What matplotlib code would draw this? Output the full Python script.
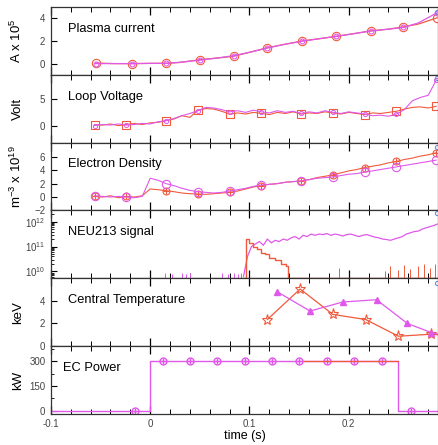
import numpy as np
import matplotlib
matplotlib.use("Agg")
import matplotlib.pyplot as plt
from matplotlib.ticker import MultipleLocator, FixedLocator, FixedFormatter

plt.rcParams['font.family'] = ['Liberation Sans', 'DejaVu Sans']
plt.rcParams['mathtext.fontset'] = 'custom'
plt.rcParams['mathtext.rm'] = 'Liberation Sans'
plt.rcParams['mathtext.it'] = 'Liberation Sans:italic'

RED = '#f05a3c'
PINK = '#e058ea'
BLUE = '#6a8fe0'

# --- plasma current (A x 1e5) ---
ip_t = [-0.055, -0.035, -0.018, 0.0, 0.016, 0.03, 0.05, 0.068, 0.084, 0.1, 0.118,
        0.135, 0.153, 0.17, 0.187, 0.205, 0.222, 0.24, 0.255, 0.27, 0.289]
ip_red = [0.05, 0.0, 0.0, 0.02, 0.02, 0.1, 0.35, 0.5, 0.65, 1.0, 1.4,
          1.7, 2.0, 2.2, 2.4, 2.65, 2.9, 3.05, 3.25, 3.5, 4.05]
ip_pink = [0.0, 0.0, 0.0, 0.02, 0.03, 0.12, 0.3, 0.5, 0.7, 1.0, 1.38,
           1.7, 1.98, 2.2, 2.42, 2.65, 2.88, 3.05, 3.2, 3.6, 4.5]

# --- loop voltage (V), sampled every 8 ms from -56 ms ---
lv_t = np.arange(44) * 0.008 - 0.056
lv_red = [0.3, 0.2, 0.4, 0.1, 0.3, 0.5, 0.3, 0.6, 0.7, 1.0,
          1.3, 1.9, 1.6, 2.9, 3.2, 3.1, 2.7, 2.2, 2.4, 2.2,
          2.5, 2.3, 2.1, 2.5, 2.3, 2.6, 2.2, 2.4, 2.3, 2.6,
          2.4, 2.2, 2.5, 2.3, 2.1, 2.4, 2.3, 2.5, 2.7, 3.1,
          3.4, 3.5, 3.3, 3.6]
lv_pink = [0.1, 0.3, 0.2, 0.4, 0.2, 0.3, 0.5, 0.4, 0.8, 1.0,
           1.4, 1.9, 2.3, 2.8, 3.4, 3.3, 3.0, 2.6, 2.8, 2.5,
           2.9, 2.6, 2.4, 2.8, 2.5, 2.7, 2.3, 2.6, 2.4, 2.8,
           2.5, 2.3, 2.6, 2.4, 2.2, 1.9, 2.0, 1.8, 2.2, 3.0,
           4.6, 5.2, 5.6, 8.3]

# --- electron density (1e19 m^-3), same time base ---
ne_red = [0.1, 0.0, 0.2, -0.1, 0.1, 0.0, 0.2, 1.2, 1.1, 0.95,
          0.8, 0.6, 0.5, 0.45, 0.4, 0.5, 0.6, 0.7, 0.9, 1.2,
          1.5, 1.7, 1.9, 2.0, 2.2, 2.3, 2.4, 2.6, 2.9, 3.1,
          3.3, 3.6, 3.9, 4.1, 4.4, 4.6, 4.8, 5.1, 5.3, 5.6,
          5.8, 6.1, 6.3, 6.6]
ne_pink = [0.2, 0.1, 0.0, 0.1, 0.0, -0.1, 0.1, 2.8, 2.5, 2.0,
           1.7, 1.3, 1.0, 0.8, 0.7, 0.6, 0.7, 0.9, 1.1, 1.3,
           1.6, 1.8, 1.9, 2.0, 2.2, 2.3, 2.4, 2.6, 2.8, 2.9,
           3.0, 3.2, 3.4, 3.5, 3.7, 3.9, 4.1, 4.3, 4.5, 4.7,
           4.9, 5.1, 5.3, 5.5]

# --- NEU213 signal (log10 counts) ---
neu_t = [0.094, 0.098, 0.102, 0.106, 0.110, 0.114, 0.118, 0.122, 0.126, 0.130,
         0.134, 0.138, 0.142, 0.146, 0.150, 0.154, 0.158, 0.162, 0.166, 0.170,
         0.174, 0.178, 0.182, 0.186, 0.190, 0.194, 0.198, 0.202, 0.206, 0.210,
         0.214, 0.218, 0.222, 0.226, 0.230, 0.234, 0.238, 0.242, 0.246, 0.250,
         0.254, 0.258, 0.262, 0.266, 0.270, 0.274, 0.278, 0.282, 0.286, 0.289]
neu_pink = [9.8, 10.6, 11.0, 11.1, 11.2, 11.05, 11.3, 11.15, 11.25, 11.2,
            11.3, 11.25, 11.35, 11.4, 11.3, 11.45, 11.4, 11.5, 11.45, 11.5,
            11.48, 11.52, 11.45, 11.5, 11.47, 11.42, 11.48, 11.5, 11.45, 11.4,
            11.45, 11.48, 11.43, 11.38, 11.35, 11.3, 11.28, 11.25, 11.3, 11.35,
            11.4, 11.5, 11.55, 11.6, 11.62, 11.7, 11.75, 11.8, 11.85, 11.9]
neu_red_t = [0.093, 0.096, 0.100, 0.104, 0.108, 0.112, 0.116, 0.120, 0.126, 0.132, 0.137, 0.139, 0.29]
neu_red = [9.75, 11.3, 11.15, 11.0, 10.9, 10.75, 10.7, 10.55, 10.45, 10.3, 10.2, 9.75, 9.75]
spike_pink_t = [0.015, 0.022, 0.032, 0.036, 0.040, 0.072, 0.078, 0.084, 0.088, 0.091]
spike_pink = [9.95, 9.9, 9.95, 9.9, 9.92, 9.95, 9.9, 9.95, 9.9, 9.95]
spike_red_t = [0.190, 0.236, 0.242, 0.250, 0.256, 0.262, 0.270, 0.276, 0.282, 0.287]
spike_red = [10.15, 10.0, 10.2, 10.05, 10.25, 10.1, 10.2, 10.3, 10.15, 10.3]

# --- central temperature (keV) ---
te_red_t = [0.118, 0.151, 0.184, 0.217, 0.250, 0.283, 0.29]
te_red = [2.35, 5.05, 2.8, 2.35, 0.87, 1.05, 1.0]
te_pink_t = [0.128, 0.161, 0.194, 0.228, 0.259, 0.283, 0.29]
te_pink = [4.8, 3.1, 3.9, 4.1, 2.0, 1.2, 1.05]

# --- EC power (kW) ---
ec_t = [-0.1, 0.0, 0.25, 0.29]
ec_pink = [0, 300, 0, 0]
ec_mark_t = [-0.015, 0.013, 0.040, 0.067, 0.095, 0.123, 0.150, 0.178, 0.205, 0.233, 0.263]
ec_mark = [0, 300, 300, 300, 300, 300, 300, 300, 300, 300, 0]
ec_red_t = [0.155, 0.25, 0.25]
ec_red = [300, 300, 300]

# blue end markers (last sample of a third trace)
blue_end = [4.6, 8.7, 7.5, 12.35, 5.6, None]

labels = ['Plasma current', 'Loop Voltage', 'Electron Density',
          'NEU213 signal', 'Central Temperature', 'EC Power']
ylabels = [r'A x 10$^{5}$', 'Volt', r'm$^{-3}$ x 10$^{19}$', '', 'keV', 'kW']

fig, axes = plt.subplots(6, 1, sharex=True, figsize=(4.39, 4.45), dpi=100)
fig.subplots_adjust(left=0.116, right=0.998, bottom=0.07, top=0.984, hspace=0)

ax = axes[0]
ax.plot(ip_t, ip_red, color=RED, lw=0.9, marker='o', ms=6, mfc='none', mew=0.8, markevery=2)
ax.plot(ip_t, ip_pink, color=PINK, lw=0.9, marker='o', ms=3.5, mfc='none', mew=0.8, markevery=2)
ax.set_ylim(-1, 5)
ax.set_yticks([0, 2, 4])

ax = axes[1]
mk = [0, 4, 9, 13, 17, 21, 26, 30, 34, 38, 43]
ax.plot(lv_t, lv_red, color=RED, lw=0.8, marker='s', ms=5.5, mfc='none', mew=0.8, markevery=mk)
ax.plot(lv_t, lv_pink, color=PINK, lw=0.8, marker='o', ms=3, mfc='none', mew=0.7, markevery=mk)
ax.set_ylim(-3, 9.3)
ax.set_yticks([0, 5])

ax = axes[2]
ax.plot(lv_t, ne_red, color=RED, lw=0.8, marker='o', ms=5, mfc='none', mew=0.8, markevery=mk)
ax.plot(lv_t, ne_red, ls='none', color=RED, marker='+', ms=5, mew=0.8, markevery=mk)
ax.plot(lv_t, ne_pink, color=PINK, lw=0.8, marker='o', ms=6, mfc='none', mew=0.8, markevery=mk)
ax.set_ylim(-2, 8.1)
ax.set_yticks([-2, 0, 2, 4, 6])

ax = axes[3]
ax.set_yscale('log')
ax.plot(neu_t, 10 ** np.array(neu_pink), color=PINK, lw=0.9)
ax.plot(neu_red_t, 10 ** np.array(neu_red), color=RED, lw=1.0, drawstyle='steps-post')
ax.vlines(spike_pink_t, 10 ** 9.75, 10 ** np.array(spike_pink), color=PINK, lw=0.7)
ax.vlines(spike_red_t, 10 ** 9.75, 10 ** np.array(spike_red), color=RED, lw=0.7)
ax.set_ylim(5.3e9, 2.8e12)
ax.set_yticks([1e10, 1e11, 1e12])
ax.set_yticklabels([r'10$^{10}$', r'10$^{11}$', r'10$^{12}$'])

ax = axes[4]
ax.plot(te_red_t[:-1], te_red[:-1], color=RED, lw=0.9, marker='*', ms=8, mfc='none', mew=0.8)
ax.plot(te_red_t[-2:], te_red[-2:], color=RED, lw=0.9)
ax.plot(te_pink_t[:-1], te_pink[:-1], color=PINK, lw=0.9, marker='^', ms=4.5)
ax.plot(te_pink_t[-2:], te_pink[-2:], color=PINK, lw=0.9)
ax.set_ylim(0, 6)
ax.set_yticks([0, 2, 4])

ax = axes[5]
ax.plot(ec_t, ec_pink, color=PINK, lw=1.0, drawstyle='steps-post')
ax.plot(ec_mark_t, ec_mark, ls='none', color=PINK, marker='o', ms=5, mfc='none', mew=1.0)
ax.plot(ec_mark_t, ec_mark, ls='none', color=PINK, marker='+', ms=4, mew=1.0)
ax.plot(ec_red_t, ec_red, color=RED, lw=0.9)
ax.set_ylim(-18, 392)
ax.yaxis.set_major_locator(FixedLocator([0, 150, 300]))
ax.yaxis.set_minor_locator(MultipleLocator(75))

for i, ax in enumerate(axes):
    if blue_end[i] is not None:
        v = 10 ** blue_end[i] if i == 3 else blue_end[i]
        ax.plot([0.2885], [v], ls='none', marker='o', ms=3, mfc='none', mec=BLUE, mew=0.8)
    ax.text(0.044 if i < 5 else 0.03, 0.68, labels[i], transform=ax.transAxes,
            fontsize=9.3, va='center', ha='left')
    if ylabels[i]:
        ax.set_ylabel(ylabels[i], fontsize=9.5)
        ax.yaxis.set_label_coords(-0.07, 0.5)
    ax.set_xlim(-0.1, 0.29)
    ax.xaxis.set_major_locator(MultipleLocator(0.1))
    ax.xaxis.set_minor_locator(MultipleLocator(0.02))
    ax.tick_params(axis='x', which='major', direction='in', top=True, bottom=True, length=6, width=0.9)
    ax.tick_params(axis='x', which='minor', direction='in', top=True, bottom=True, length=3.5, width=0.7)
    ax.tick_params(axis='y', which='major', direction='in', length=4, width=0.8,
                   labelsize=7, labelcolor='#444444', pad=4)
    ax.tick_params(axis='y', which='minor', direction='in', length=2.5, width=0.6)
    ax.tick_params(axis='x', labelsize=7, labelcolor='#444444', pad=4)
    for s in ax.spines.values():
        s.set_color('#333333')
        s.set_linewidth(0.9)

axes[5].xaxis.set_major_formatter(FixedFormatter(['-0.1', '0', '0.1', '0.2']))
axes[5].xaxis.set_major_locator(FixedLocator([-0.1, 0.0, 0.1, 0.2]))
axes[5].set_xlabel('time (s)', fontsize=9, labelpad=0.5)

fig.savefig('out.png', dpi=100)
